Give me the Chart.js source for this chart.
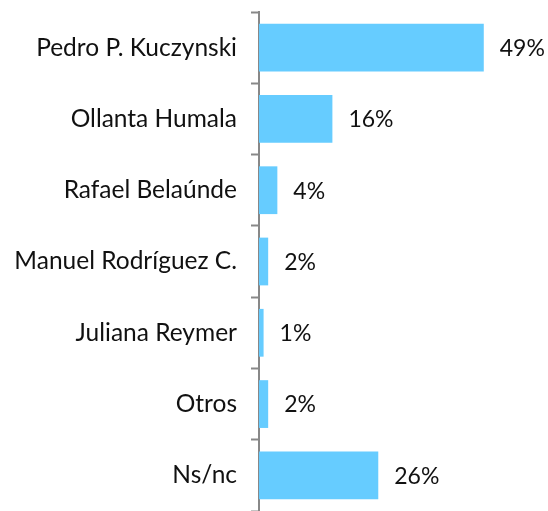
<!DOCTYPE html>
<html>
<head>
<meta charset="utf-8">
<script src="https://cdn.jsdelivr.net/npm/chart.js@4/dist/chart.umd.min.js"></script>
<style>
  body { margin: 0; background: #fff; }
</style>
</head>
<body>
<canvas id="MiGrafica" width="548" height="511"></canvas>
<script>
// Datos del grafico
const candidatos = ["Pedro P. Kuczynski", "Ollanta Humala", "Rafael Belaúnde", "Manuel Rodríguez C.", "Juliana Reymer", "Otros", "Ns/nc"];
const porcentajes = [49, 16, 4, 2, 1, 2, 26];

const fuente = "Lato, 'Liberation Sans', sans-serif";

// Etiquetas de valor al final de cada barra
const etiquetasValor = {
  id: 'etiquetasValor',
  afterDatasetsDraw(chart) {
    const ctx = chart.ctx;
    const meta = chart.getDatasetMeta(0);
    ctx.save();
    ctx.font = "23px " + fuente;
    ctx.fillStyle = "#111";
    ctx.textAlign = "left";
    ctx.textBaseline = "middle";
    meta.data.forEach((bar, i) => {
      ctx.fillText(porcentajes[i] + "%", bar.x + 16, bar.y + 1);
    });
    ctx.restore();
  }
};

const miCanvas = document.getElementById("MiGrafica").getContext("2d");

const chart = new Chart(miCanvas, {
  type: "bar",
  data: {
    labels: candidatos,
    datasets: [{
      data: porcentajes,
      backgroundColor: "#66CCFF",
      borderWidth: 0,
      categoryPercentage: 0.67,
      barPercentage: 1
    }]
  },
  options: {
    indexAxis: 'y',
    responsive: false,
    animation: false,
    plugins: {
      legend: { display: false },
      tooltip: { enabled: false }
    },
    layout: {
      padding: { left: 0, right: 0, top: 12, bottom: 0 }
    },
    scales: {
      x: {
        display: false,
        min: 0,
        max: 63
      },
      y: {
        afterFit(scale) {
          scale.width = 259;
          // el eje llega hasta el borde inferior
          scale.paddingTop = 0;
          scale.paddingBottom = 0;
        },
        grid: {
          offset: true,
          drawOnChartArea: false,
          tickLength: 8,
          tickWidth: 2,
          tickColor: "#888"
        },
        border: { color: "#888", width: 2 },
        ticks: {
          color: "#111",
          padding: 14,
          font: { family: fuente, size: 24.5 }
        }
      }
    }
  },
  plugins: [etiquetasValor]
});
</script>
</body>
</html>
